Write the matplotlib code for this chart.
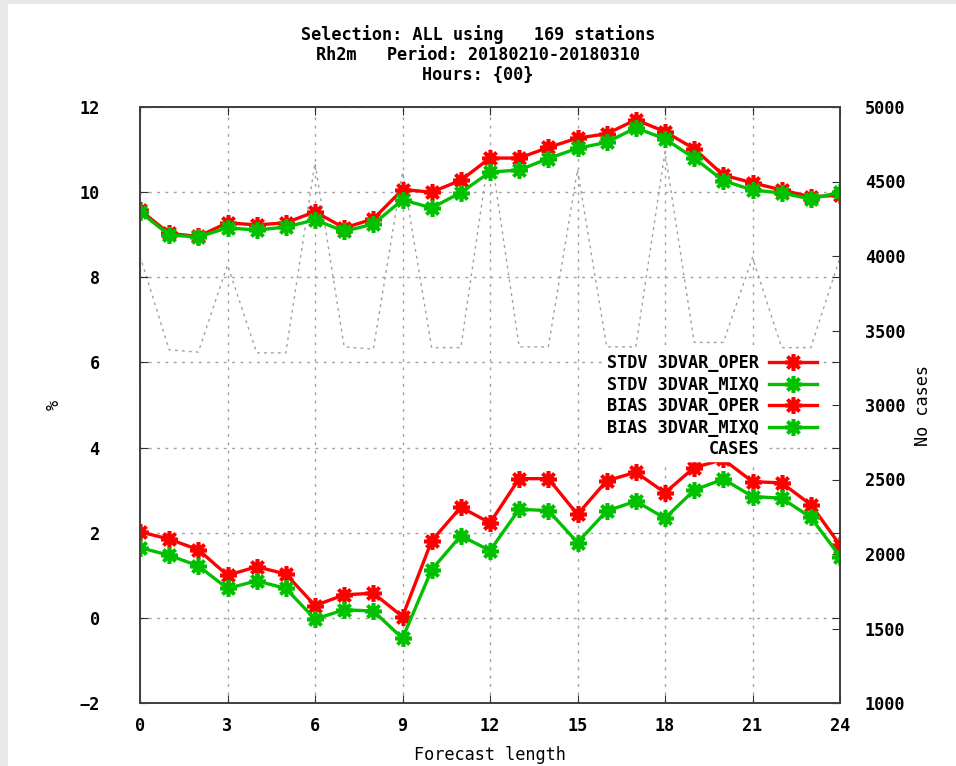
import numpy as np
import matplotlib
matplotlib.use('Agg')
import matplotlib.pyplot as plt
from matplotlib.patches import Rectangle

# Datos
hours = list(range(25))
stdv_oper = [9.58, 9.03, 8.96, 9.28, 9.23, 9.28, 9.54, 9.16, 9.37, 10.06, 10.0, 10.28,
             10.8, 10.8, 11.05, 11.27, 11.37, 11.7, 11.42, 11.02, 10.4, 10.22, 10.05, 9.89, 9.93]
stdv_mixq = [9.54, 8.99, 8.95, 9.16, 9.11, 9.18, 9.35, 9.08, 9.25, 9.82, 9.63, 9.99,
             10.47, 10.52, 10.79, 11.03, 11.17, 11.51, 11.25, 10.8, 10.27, 10.05, 9.98, 9.84, 10.0]
bias_oper = [2.02, 1.85, 1.6, 1.0, 1.2, 1.03, 0.29, 0.54, 0.58, 0.03, 1.81, 2.6,
             2.23, 3.27, 3.27, 2.43, 3.22, 3.42, 2.94, 3.53, 3.72, 3.2, 3.17, 2.66, 1.71]
bias_mixq = [1.65, 1.47, 1.22, 0.69, 0.87, 0.69, -0.03, 0.19, 0.16, -0.48, 1.13, 1.93,
             1.58, 2.55, 2.52, 1.77, 2.51, 2.74, 2.34, 3.0, 3.26, 2.85, 2.81, 2.36, 1.44]
cases = [4000, 3370, 3355, 3940, 3350, 3350, 4625, 3390, 3375, 4565, 3385, 3385,
         4730, 3390, 3390, 4580, 3390, 3390, 4700, 3420, 3420, 3990, 3385, 3385, 3990]

labels = ['STDV 3DVAR_OPER', 'STDV 3DVAR_MIXQ', 'BIAS 3DVAR_OPER', 'BIAS 3DVAR_MIXQ', 'CASES']

plt.rcParams['font.family'] = 'DejaVu Sans Mono'
plt.rcParams['font.weight'] = 'bold'
plt.rcParams['font.size'] = 12.2

W, H = 956, 766
fig = plt.figure(figsize=(W / 100, H / 100), dpi=100)
fig.patch.set_facecolor('#e8e8e8')
fig.patches.append(Rectangle((8 / W, 0), 1 - 8 / W, 1 - 4 / H, transform=fig.transFigure,
                             facecolor='white', edgecolor='none', zorder=-10))

ax = fig.add_axes([140 / W, 63 / H, 700 / W, 596 / H])
ax2 = ax.twinx()
ax.set_zorder(ax2.get_zorder() + 1)
ax.patch.set_visible(False)

red = '#ff0000'
green = '#00c000'
mk = dict(marker=(8, 2, 0), markersize=12, markeredgewidth=2.6, linewidth=2.4)

# Numero de casos (eje derecho)
lc, = ax2.plot(hours, cases, color='#a0a0a0', linestyle=(0, (2, 3)), linewidth=1.0)

# STDV y BIAS
l1, = ax.plot(hours, stdv_oper, color=red, markeredgecolor=red, **mk)
l2, = ax.plot(hours, stdv_mixq, color=green, markeredgecolor=green, **mk)
l3, = ax.plot(hours, bias_oper, color=red, markeredgecolor=red, **mk)
l4, = ax.plot(hours, bias_mixq, color=green, markeredgecolor=green, **mk)

ax.set_xlim(0, 24)
ax.set_ylim(-2, 12)
ax.set_xticks(range(0, 25, 3))
ax.set_yticks(range(-2, 13, 2))
ax2.set_ylim(1000, 5000)
ax2.set_yticks(range(1000, 5001, 500))

ax.grid(True, color='#a0a0a0', linestyle=(0, (2, 4)), linewidth=1.0)
ax.tick_params(direction='in', length=6, top=True, right=True, color='#303030')
ax.tick_params(axis='y', pad=29)
ax.tick_params(axis='x', pad=10)
ax2.tick_params(direction='in', length=6, color='#303030', pad=18)
for a in (ax, ax2):
    for s in a.spines.values():
        s.set_color('#404040')
        s.set_linewidth(1.3)

ax.set_xlabel('Forecast length', labelpad=8)
ax.set_ylabel('%', labelpad=12)
ax2.set_ylabel('No cases', labelpad=6)

fig.text(0.5, 1 - 35 / H, 'Selection: ALL using   169 stations', ha='center', va='center')
fig.text(0.5, 1 - 55 / H, 'Rh2m   Period: 20180210-20180310', ha='center', va='center')
fig.text(0.5, 1 - 75 / H, 'Hours: {00}', ha='center', va='center')

leg = ax.legend([l1, l2, l3, l4, lc], labels, markerfirst=False, loc='upper right',
                bbox_to_anchor=(820 / W, 1 - 351 / H), bbox_transform=fig.transFigure,
                frameon=True, framealpha=1, edgecolor='white', fancybox=False,
                handlelength=2.8, handletextpad=0.6, labelspacing=0.2,
                borderpad=0.2, borderaxespad=0)

fig.savefig('out.png', dpi=100, facecolor=fig.get_facecolor())
